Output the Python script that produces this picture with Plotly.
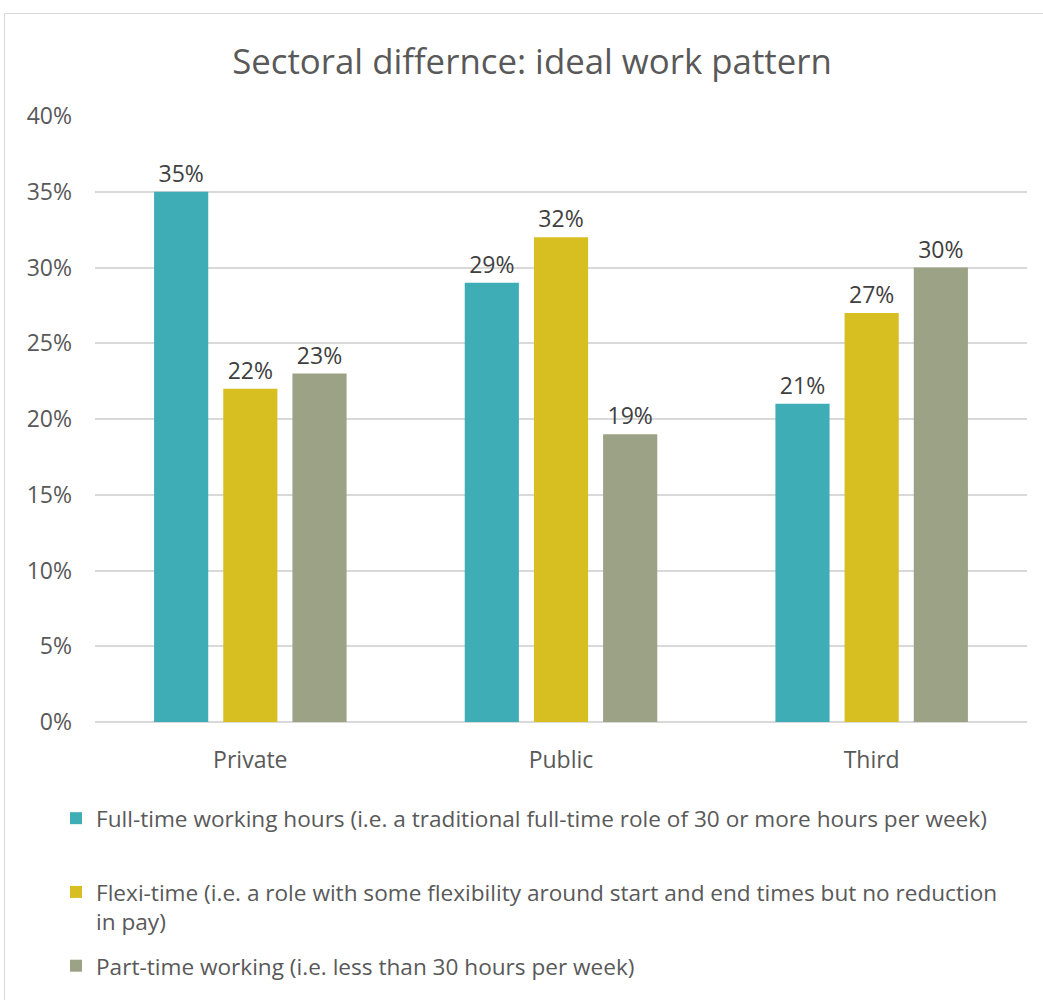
import plotly.graph_objects as go

categories = ["Private", "Public", "Third"]
series_names = [
    "Full-time working hours (i.e. a traditional full-time role of 30 or more hours per week)<br> ",
    "Flexi-time (i.e. a role with some flexibility around start and end times but no reduction<br>in pay)",
    "Part-time working (i.e. less than 30 hours per week)",
]
full_time = [0.35, 0.29, 0.21]
flexi_time = [0.22, 0.32, 0.27]
part_time = [0.23, 0.19, 0.30]
colors = ["#3EADB5", "#D8BF21", "#9CA285"]
tick_vals = [0, 0.05, 0.10, 0.15, 0.20, 0.25, 0.30, 0.35, 0.40]
tick_text = ["0%", "5%", "10%", "15%", "20%", "25%", "30%", "35%", "40%"]

FONT = "Open Sans"
W, H = 1043, 1000
ML, MR, MT, MB = 95, 16, 116, 278
pw = W - ML - MR
ph = H - MT - MB


def px_x(px):
    return (px - ML) / pw


def px_y(py):
    return (H - MB - py) / ph


fig = go.Figure()
for i, (name, vals, col) in enumerate(zip(series_names, [full_time, flexi_time, part_time], colors)):
    fig.add_trace(go.Bar(
        x=categories, y=vals, name=name, legendgroup=f"g{i}",
        marker=dict(color=col, line=dict(width=0)),
        text=[f"{round(v*100)}%" for v in vals], textposition="outside",
        textfont=dict(family=FONT, size=23, color="#404040"), cliponaxis=False,
    ))

fig.update_layout(
    width=W, height=H,
    margin=dict(l=ML, r=MR, t=MT, b=MB),
    paper_bgcolor="white", plot_bgcolor="white",
    barmode="group", bargap=0.332, bargroupgap=0.217,
    title=dict(text="Sectoral differnce: ideal work pattern", xref="container", x=532 / W, xanchor="center",
               y=1 - 62 / H, yanchor="middle",
               font=dict(family=FONT, size=34.8, color="#595959")),
    font=dict(family=FONT, color="#595959"),
    xaxis=dict(showgrid=False, showline=False, ticks="", ticklabelstandoff=22,
               tickfont=dict(size=23, color="#595959")),
    yaxis=dict(range=[0, 0.40], tickvals=tick_vals, ticktext=tick_text,
               showgrid=True, gridcolor="#D9D9D9", gridwidth=1.5,
               zeroline=True, zerolinecolor="#D9D9D9", zerolinewidth=1.5,
               showline=False, ticks="", ticklabelstandoff=22,
               tickfont=dict(size=23, color="#595959")),
    showlegend=True,
    legend=dict(orientation="v", x=px_x(56), xanchor="left", y=px_y(797), yanchor="top",
                font=dict(family=FONT, size=22.6, color="#595959"),
                valign="top", traceorder="grouped", tracegroupgap=12),
    shapes=[dict(type="rect", xref="paper", yref="paper",
                 x0=px_x(4.5), x1=px_x(1060), y0=px_y(1020), y1=px_y(13.5),
                 line=dict(color="#D9D9D9", width=1), fillcolor="rgba(0,0,0,0)", layer="below")],
)

fig.write_html("out.html", config={"displayModeBar": False},
               post_script="document.body.style.margin='0';document.body.style.overflow='hidden';")
